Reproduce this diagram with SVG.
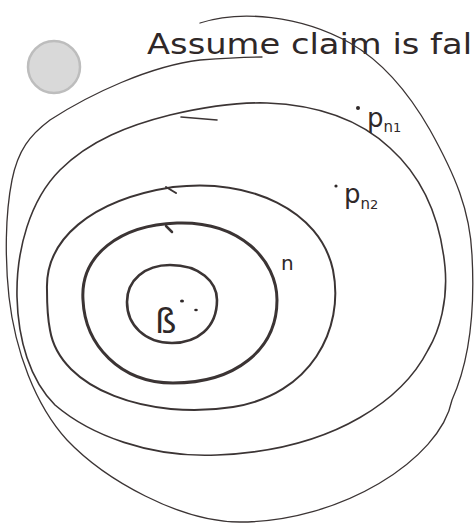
<svg xmlns="http://www.w3.org/2000/svg" width="474" height="529" viewBox="0 0 474 529">
<style>
.c{fill:none;stroke:#3b3434;stroke-linecap:round;stroke-linejoin:round}
.t{font-family:"DejaVu Sans","Liberation Sans",sans-serif;fill:#2f2828}
.d{fill:#2f2828}
</style>
<rect width="474" height="529" fill="#ffffff"/>
<g id="marker-dot">
<circle cx="54" cy="67" r="26" fill="#d9d9d9" stroke="#bdbdbd" stroke-width="2.5"/>
</g>
<g id="title">
<text class="t" x="147" y="54" font-size="28" textLength="325" lengthAdjust="spacingAndGlyphs">Assume claim is fal</text>
</g>
<g id="contour-5">
<path class="c" stroke="#555" stroke-width="1.3" d="M 200,23 C 240,10 300,15 350,43 C 385,63 410,95 430,130 C 455,175 470,210 472,255 C 475,310 470,360 452,400 C 440,460 340,522 240,522 C 180,522 105,480 67,440 C 35,405 15,350 9,297 C 5,260 5,215 12,180 C 18,150 30,135 50,120 C 90,94 150,66 200,60 C 225,58 245,57 262,57"/>
</g>
<g id="contour-4">
<path class="c" stroke="#444" stroke-width="1.6" d="M 267,103 C 320,105 360,120 390,148 C 420,175 440,215 445,267 C 448,300 440,330 428,350 C 405,395 340,450 217,455 C 150,458 90,435 55,405 C 30,380 18,340 17,297 C 16,250 30,200 60,170 C 90,140 130,125 170,115 C 200,108 235,102 267,103 Z"/>
<path class="c" stroke="#444" stroke-width="1.6" d="M 181,117 L 217,120"/>
</g>
<g id="contour-3">
<path class="c" stroke-width="2" d="M 47,290 C 45,240 90,200 173,187 C 250,178 320,210 333,270 C 345,330 310,395 233,407 C 150,420 60,390 50,330 C 47,315 47,300 47,290 Z"/>
<path class="c" stroke-width="2" d="M 166,187 L 176,193"/>
</g>
<g id="contour-2">
<path class="c" stroke-width="3" d="M 83,300 C 80,255 120,225 177,223 C 240,221 277,260 277,300 C 277,350 235,383 173,383 C 120,383 85,345 83,300 Z"/>
<path class="c" stroke-width="2.5" d="M 166,226 L 172,232"/>
</g>
<g id="contour-1">
<path class="c" stroke-width="2.6" d="M 127,302 C 127,280 145,265 170,265 C 200,265 217,282 217,300 C 217,328 197,343 172,343 C 145,343 127,325 127,302 Z"/>
</g>
<g id="label-pn1">
<circle class="d" cx="358" cy="108" r="2"/>
<text class="t" x="367" y="127" font-size="26">p<tspan font-size="15" dy="5">n</tspan><tspan font-size="13" dy="0">1</tspan></text>
</g>
<g id="label-pn2">
<circle class="d" cx="336" cy="186" r="1.6"/>
<text class="t" x="344" y="203" font-size="26">p<tspan font-size="15" dy="6">n</tspan><tspan font-size="13" dy="0">2</tspan></text>
</g>
<g id="label-n">
<text class="t" x="281" y="270" font-size="20">n</text>
</g>
<g id="label-center">
<text class="t" x="155" y="333" font-size="34">ß</text>
<ellipse class="d" cx="182" cy="301" rx="2" ry="1.6"/>
<ellipse class="d" cx="196" cy="310" rx="1.8" ry="1.3"/>
</g>
</svg>
